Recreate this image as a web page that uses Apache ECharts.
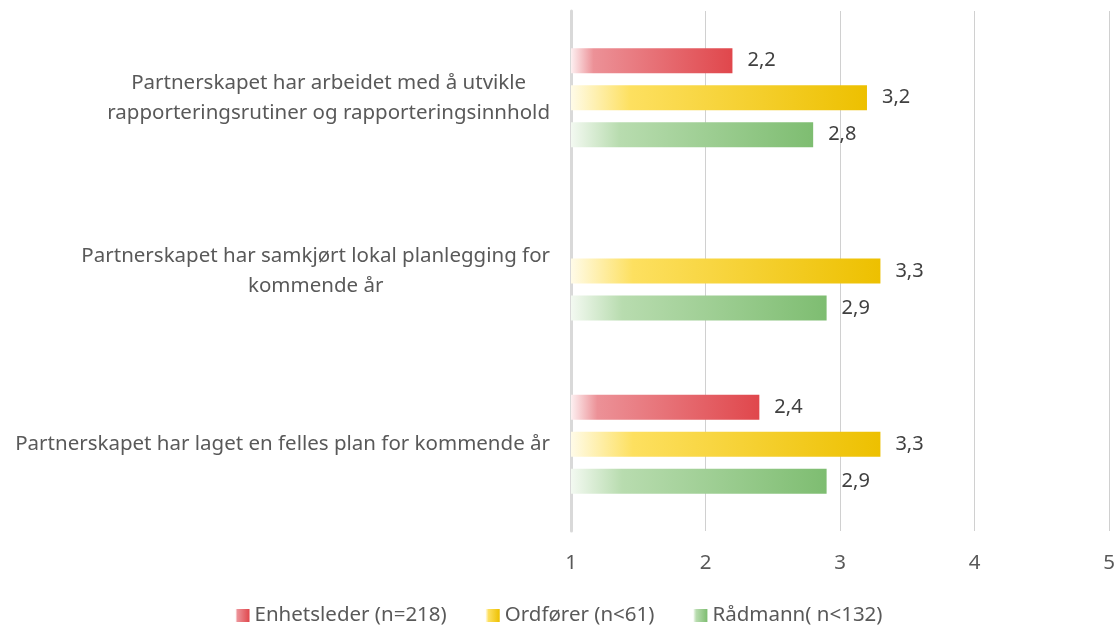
<!DOCTYPE html>
<html>
<head>
<meta charset="utf-8">
<script src="https://cdn.jsdelivr.net/npm/echarts@6/dist/echarts.min.js"></script>
<style>
  html, body { margin: 0; padding: 0; background: #fff; }
  #myChart { width: 1118px; height: 626px; }
</style>
</head>
<body>
<div id="myChart"></div>
<script>
// kategorier (fra topp til bunn)
var categories = [
  "Partnerskapet har arbeidet med å utvikle\nrapporteringsrutiner og rapporteringsinnhold",
  "Partnerskapet har samkjørt lokal planlegging for\nkommende år",
  "Partnerskapet har laget en felles plan for kommende år"
];
var seriesNames = ["Enhetsleder (n=218)", "Ordfører (n<61)", "Rådmann( n<132)"];
var enhetsleder = [2.2, null, 2.4];
var ordforer = [3.2, 3.3, 3.3];
var radmann = [2.8, 2.9, 2.9];
var xTicks = [1, 2, 3, 4, 5];

function grad(c0, c1, c2, mid) {
  return {
    type: "linear", x: 0, y: 0, x2: 1, y2: 0,
    colorStops: [
      { offset: 0, color: c0 },
      { offset: mid, color: c1 },
      { offset: 1, color: c2 }
    ]
  };
}
var colors = [
  grad("#fdf0f1", "#ec9197", "#e0474c", 0.14),
  grad("#fffbe8", "#fde060", "#edc000", 0.2),
  grad("#f3f9f1", "#b8dcaf", "#7ebd71", 0.2)
];

function fmt(v) {
  return v.toFixed(1).replace(".", ",");
}

var font = "Noto Sans";
var fs = 20.5;
var myChart = echarts.init(document.getElementById("myChart"));

function makeSeries(i, data) {
  return {
    name: seriesNames[i],
    type: "bar",
    data: data,
    barWidth: 25,
    barGap: "48%",
    itemStyle: { color: colors[i] },
    label: {
      show: true,
      position: "right",
      distance: 15,
      color: "#404040",
      fontFamily: font,
      fontSize: 20,
      formatter: function (p) { return fmt(p.value); }
    }
  };
}

myChart.setOption({
  animation: false,
  textStyle: { fontFamily: font },
  legend: {
    top: 600,
    left: "center",
    itemWidth: 14,
    itemHeight: 13,
    itemGap: 39,
    icon: "rect",
    textStyle: { color: "#595959", fontSize: fs, fontFamily: font },
    data: seriesNames
  },
  grid: { left: 571, right: 8, top: 11, bottom: 95 },
  xAxis: {
    type: "value",
    min: xTicks[0],
    max: xTicks[xTicks.length - 1],
    interval: 1,
    axisLine: { show: false },
    axisTick: { show: false },
    axisLabel: { color: "#595959", fontSize: fs, fontFamily: font, margin: 22 },
    splitLine: { lineStyle: { color: "#d0d0d0", width: 1 } }
  },
  yAxis: {
    type: "category",
    inverse: true,
    data: categories,
    axisLine: { show: true, lineStyle: { color: "#d9d9d9", width: 3 } },
    axisTick: { show: false },
    axisLabel: {
      color: "#595959",
      fontSize: fs,
      fontFamily: font,
      margin: 21,
      lineHeight: 30,
      align: "right",
      formatter: function (v) {
        return v.split("\n").map(function (s) { return "{c|" + s + "}"; }).join("\n");
      },
      rich: { c: { align: "center", color: "#595959", fontSize: fs, fontFamily: font, lineHeight: 30 } }
    }
  },
  series: [
    makeSeries(0, enhetsleder),
    makeSeries(1, ordforer),
    makeSeries(2, radmann)
  ]
});
</script>
</body>
</html>
